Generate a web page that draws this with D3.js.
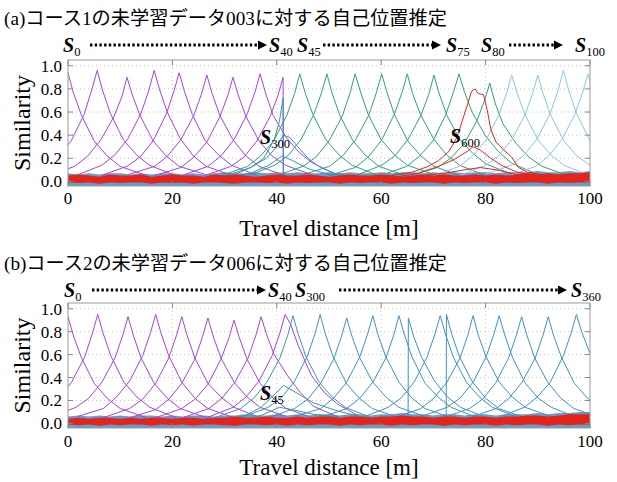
<!DOCTYPE html>
<html>
<head>
<meta charset="utf-8">
<script src="https://cdn.jsdelivr.net/npm/d3@7"></script>
<style>
  body { margin: 0; background: #fff; }
  text { font-family: "Liberation Serif", "Noto Sans CJK JP", serif; }
</style>
</head>
<body>
<script>
// ---------- data ----------
var xTicks = [0, 20, 40, 60, 80, 100];
var yTicks = [0, 0.2, 0.4, 0.6, 0.8, 1.0];
var yTickLabels = ["0.0", "0.2", "0.4", "0.6", "0.8", "1.0"];

// offsets [m] from a peak at which each curve's similarity was read
var offs = [-15, -10, -7.5, -5, -2.5, -1, 0, 1, 2.5, 5, 7.5, 10, 15];

// (a) course 1, test data 003
var purpleAPeak = [0, 5.6, 11.3, 16.5, 21.3, 26.6, 31.6, 36.8, 41.2];
var purpleAVal = [
  [0.05, 0.13, 0.22, 0.36, 0.57, 0.76, 0.94, 0.77, 0.58, 0.35, 0.22, 0.13, 0.05],
  [0.05, 0.12, 0.21, 0.35, 0.58, 0.80, 0.96, 0.79, 0.59, 0.36, 0.23, 0.14, 0.05],
  [0.05, 0.13, 0.22, 0.36, 0.56, 0.73, 0.90, 0.75, 0.57, 0.35, 0.22, 0.13, 0.06],
  [0.05, 0.14, 0.23, 0.37, 0.59, 0.79, 0.96, 0.80, 0.60, 0.37, 0.22, 0.13, 0.05],
  [0.05, 0.13, 0.21, 0.35, 0.58, 0.78, 0.94, 0.78, 0.58, 0.35, 0.23, 0.14, 0.05],
  [0.06, 0.13, 0.22, 0.36, 0.57, 0.76, 0.92, 0.76, 0.57, 0.36, 0.22, 0.13, 0.05],
  [0.05, 0.12, 0.21, 0.34, 0.56, 0.74, 0.90, 0.75, 0.56, 0.35, 0.22, 0.14, 0.06],
  [0.05, 0.13, 0.22, 0.36, 0.58, 0.77, 0.93, 0.77, 0.57, 0.38, 0.25, 0.16, 0.05],
  [0.05, 0.13, 0.21, 0.35, 0.56, 0.74, 0.90, 0.74, 0.56, 0.35, 0.22, 0.13, 0.05]
];
var purpleACut = [0, 0, 0, 0, 0, 0, 0, 0, 1];

var greenAPeak = [44.4, 49.6, 55.0, 60.1, 65.0, 70.1, 74.9, 80.8];
var greenAVal = [
  [0.05, 0.13, 0.22, 0.35, 0.57, 0.76, 0.93, 0.77, 0.58, 0.36, 0.23, 0.14, 0.05],
  [0.05, 0.14, 0.22, 0.36, 0.58, 0.77, 0.93, 0.76, 0.57, 0.35, 0.22, 0.13, 0.05],
  [0.05, 0.13, 0.21, 0.35, 0.56, 0.76, 0.93, 0.78, 0.58, 0.36, 0.23, 0.14, 0.06],
  [0.06, 0.13, 0.22, 0.36, 0.57, 0.77, 0.93, 0.77, 0.57, 0.35, 0.22, 0.13, 0.05],
  [0.05, 0.12, 0.21, 0.35, 0.58, 0.77, 0.93, 0.76, 0.58, 0.37, 0.23, 0.14, 0.05],
  [0.05, 0.14, 0.22, 0.36, 0.57, 0.75, 0.92, 0.76, 0.57, 0.36, 0.24, 0.15, 0.06],
  [0.05, 0.13, 0.22, 0.35, 0.58, 0.78, 0.93, 0.78, 0.60, 0.40, 0.26, 0.16, 0.06],
  [0.05, 0.12, 0.20, 0.32, 0.52, 0.70, 0.85, 0.68, 0.50, 0.33, 0.21, 0.13, 0.05]
];

var lightAPeak = [85.0, 90.0, 94.9, 99.6];
var lightAVal = [
  [0.05, 0.13, 0.22, 0.35, 0.57, 0.76, 0.92, 0.77, 0.58, 0.36, 0.23, 0.14, 0.05],
  [0.05, 0.14, 0.22, 0.36, 0.57, 0.76, 0.92, 0.76, 0.57, 0.35, 0.22, 0.14, 0.05],
  [0.06, 0.14, 0.23, 0.37, 0.59, 0.79, 0.96, 0.79, 0.59, 0.36, 0.22, 0.13, 0.05],
  [0.05, 0.13, 0.22, 0.36, 0.58, 0.77, 0.93, 0.77, 0.58, 0.36, 0.22, 0.13, 0.05]
];

// S300 (blue) false matches around 40 m, as [distance, similarity]
var blueAPts = [
  [[28, 0.03], [32, 0.06], [35, 0.12], [37.5, 0.2], [39.5, 0.36], [40.5, 0.52], [41.2, 0.72], [41.25, 0.02]],
  [[27, 0.03], [31, 0.06], [35, 0.12], [38, 0.2], [40, 0.3], [41.2, 0.4], [42.5, 0.38], [44, 0.3], [46, 0.2], [48, 0.13], [51, 0.07], [55, 0.04]],
  [[30, 0.03], [35, 0.07], [38.5, 0.14], [41, 0.22], [43, 0.18], [46, 0.11], [50, 0.06], [54, 0.04]]
];
// S600 (red) false matches around 78 m
var redAPts = [
  [[58, 0.03], [62, 0.05], [66, 0.08], [69, 0.13], [71, 0.18], [73, 0.26], [74.5, 0.38], [75.5, 0.52], [76.5, 0.66], [77.3, 0.78], [78, 0.80], [78.6, 0.76], [79.6, 0.75], [80.3, 0.62], [81, 0.45], [82, 0.34], [83.5, 0.27], [85, 0.21], [86.3, 0.12], [88, 0.08], [92, 0.05]],
  [[62, 0.03], [67, 0.07], [71, 0.13], [74, 0.19], [76.5, 0.26], [77.6, 0.30], [79, 0.27], [81, 0.2], [83, 0.14], [86, 0.08], [90, 0.05]],
  [[66, 0.04], [72, 0.07], [76, 0.1], [79, 0.12], [82, 0.1], [86, 0.06], [90, 0.04]]
];

// noise floor, sampled every 2 m
var noiseX = d3.range(0, 101, 2);
var blueTopA = [0.07, 0.06, 0.07, 0.06, 0.07, 0.07, 0.06, 0.07, 0.06, 0.07, 0.07, 0.06, 0.07, 0.06, 0.07, 0.08, 0.07, 0.07, 0.08, 0.07, 0.08, 0.07, 0.08, 0.07, 0.07, 0.08, 0.07, 0.08, 0.07, 0.07, 0.08, 0.07, 0.08, 0.08, 0.07, 0.08, 0.07, 0.08, 0.07, 0.08, 0.08, 0.07, 0.08, 0.08, 0.08, 0.09, 0.08, 0.08, 0.09, 0.08, 0.09];
var redTopA = [0.05, 0.06, 0.05, 0.04, 0.06, 0.05, 0.05, 0.06, 0.04, 0.05, 0.06, 0.05, 0.05, 0.04, 0.06, 0.05, 0.06, 0.05, 0.04, 0.05, 0.06, 0.05, 0.05, 0.06, 0.05, 0.04, 0.05, 0.06, 0.05, 0.05, 0.06, 0.05, 0.04, 0.05, 0.06, 0.05, 0.06, 0.05, 0.05, 0.06, 0.05, 0.06, 0.05, 0.06, 0.07, 0.06, 0.07, 0.06, 0.07, 0.07, 0.08];
var redBotA = [-0.01, -0.015, -0.01, -0.02, -0.01, -0.015, -0.01, -0.01, -0.02, -0.01, -0.015, -0.01, -0.02, -0.01, -0.01, -0.015, -0.02, -0.01, -0.01, -0.015, -0.01, -0.02, -0.01, -0.015, -0.01, -0.01, -0.02, -0.01, -0.015, -0.01, -0.01, -0.02, -0.01, -0.015, -0.01, -0.01, -0.02, -0.01, -0.015, -0.01, -0.01, -0.02, -0.01, -0.015, -0.01, -0.01, -0.02, -0.01, -0.015, -0.01, -0.01];

// (b) course 2, test data 006
var purpleBPeak = [0, 5.7, 11.5, 16.8, 21.8, 26.8, 31.8, 37.0, 41.6];
var purpleBVal = [
  [0.05, 0.13, 0.22, 0.35, 0.57, 0.76, 0.93, 0.77, 0.58, 0.35, 0.22, 0.13, 0.05],
  [0.05, 0.13, 0.22, 0.36, 0.58, 0.79, 0.95, 0.79, 0.59, 0.36, 0.23, 0.14, 0.05],
  [0.05, 0.14, 0.22, 0.36, 0.57, 0.77, 0.93, 0.77, 0.57, 0.35, 0.22, 0.13, 0.05],
  [0.06, 0.13, 0.23, 0.37, 0.59, 0.79, 0.95, 0.79, 0.59, 0.36, 0.22, 0.13, 0.05],
  [0.05, 0.13, 0.21, 0.35, 0.57, 0.77, 0.93, 0.77, 0.57, 0.35, 0.23, 0.14, 0.05],
  [0.05, 0.12, 0.21, 0.35, 0.56, 0.76, 0.92, 0.76, 0.57, 0.36, 0.23, 0.14, 0.06],
  [0.05, 0.13, 0.21, 0.34, 0.56, 0.74, 0.90, 0.75, 0.56, 0.35, 0.22, 0.13, 0.05],
  [0.05, 0.13, 0.22, 0.36, 0.57, 0.77, 0.93, 0.78, 0.60, 0.42, 0.27, 0.15, 0.05],
  [0.05, 0.14, 0.23, 0.37, 0.59, 0.79, 0.95, 0.87, 0.68, 0.42, 0.27, 0.17, 0.04]
];

var blueBPeak = [43.1, 48.3, 53.4, 58.4, 63.4, 65.2, 71.3, 72.5, 77.6, 82.6, 86.9, 92.0, 97.4];
var blueBVal = [
  [0.05, 0.13, 0.22, 0.36, 0.57, 0.77, 0.94, 0.78, 0.58, 0.36, 0.23, 0.14, 0.05],
  [0.05, 0.14, 0.22, 0.36, 0.58, 0.78, 0.95, 0.78, 0.58, 0.35, 0.22, 0.13, 0.05],
  [0.05, 0.13, 0.21, 0.35, 0.56, 0.76, 0.92, 0.76, 0.57, 0.36, 0.23, 0.14, 0.06],
  [0.06, 0.13, 0.22, 0.36, 0.58, 0.78, 0.94, 0.77, 0.58, 0.36, 0.22, 0.13, 0.05],
  [0.05, 0.13, 0.22, 0.36, 0.57, 0.77, 0.94, 0.78, 0.58, 0.35, 0.23, 0.14, 0.05],
  [0.05, 0.13, 0.21, 0.35, 0.57, 0.76, 0.92, 0.76, 0.58, 0.37, 0.23, 0.14, 0.05],
  [0.05, 0.14, 0.22, 0.36, 0.58, 0.78, 0.94, 0.78, 0.58, 0.36, 0.23, 0.14, 0.05],
  [0.05, 0.13, 0.22, 0.36, 0.58, 0.78, 0.95, 0.78, 0.58, 0.36, 0.22, 0.13, 0.05],
  [0.05, 0.13, 0.22, 0.36, 0.57, 0.77, 0.94, 0.77, 0.58, 0.36, 0.23, 0.14, 0.06],
  [0.06, 0.14, 0.22, 0.36, 0.58, 0.78, 0.94, 0.78, 0.58, 0.35, 0.22, 0.14, 0.05],
  [0.05, 0.13, 0.21, 0.35, 0.57, 0.77, 0.93, 0.77, 0.57, 0.36, 0.22, 0.13, 0.05],
  [0.05, 0.13, 0.22, 0.36, 0.57, 0.77, 0.93, 0.77, 0.58, 0.35, 0.22, 0.14, 0.05],
  [0.05, 0.14, 0.23, 0.36, 0.59, 0.79, 0.95, 0.80, 0.62, 0.38, 0.24, 0.14, 0.05]
];
var blueBCut = [0, 0, 0, 0, 0, -1, 0, -1, 0, 0, 0, 0, 0];

// S45 (green) false matches around 41 m
var greenBPts = [
  [[30, 0.03], [34, 0.07], [37, 0.14], [39.5, 0.25], [41.3, 0.33], [42.5, 0.3], [44.4, 0.25], [47, 0.18], [51.5, 0.11], [56, 0.06], [60, 0.04]],
  [[33, 0.03], [37, 0.07], [40.5, 0.14], [43, 0.12], [47, 0.08], [52, 0.05]]
];

var blueTopB = [0.06, 0.07, 0.06, 0.07, 0.06, 0.07, 0.06, 0.07, 0.07, 0.06, 0.07, 0.06, 0.07, 0.07, 0.06, 0.07, 0.07, 0.08, 0.07, 0.07, 0.08, 0.07, 0.08, 0.07, 0.08, 0.08, 0.07, 0.08, 0.08, 0.07, 0.08, 0.08, 0.09, 0.08, 0.08, 0.07, 0.08, 0.08, 0.07, 0.08, 0.08, 0.07, 0.08, 0.08, 0.08, 0.09, 0.08, 0.09, 0.09, 0.10, 0.10];
var redTopB = [0.04, 0.05, 0.04, 0.05, 0.05, 0.04, 0.05, 0.04, 0.05, 0.05, 0.04, 0.05, 0.05, 0.04, 0.05, 0.05, 0.06, 0.05, 0.05, 0.06, 0.05, 0.05, 0.06, 0.05, 0.06, 0.06, 0.05, 0.06, 0.06, 0.05, 0.06, 0.06, 0.07, 0.06, 0.06, 0.05, 0.06, 0.06, 0.05, 0.06, 0.06, 0.05, 0.06, 0.06, 0.07, 0.07, 0.06, 0.07, 0.08, 0.08, 0.08];
var redBotB = [-0.01, -0.015, -0.01, -0.02, -0.01, -0.015, -0.01, -0.01, -0.02, -0.01, -0.015, -0.01, -0.02, -0.01, -0.01, -0.015, -0.02, -0.01, -0.01, -0.015, -0.01, -0.02, -0.01, -0.015, -0.01, -0.01, -0.02, -0.01, -0.015, -0.01, -0.01, -0.02, -0.01, -0.015, -0.01, -0.01, -0.02, -0.01, -0.015, -0.01, -0.01, -0.02, -0.01, -0.015, -0.01, -0.01, -0.02, -0.01, -0.015, -0.01, -0.01];

// arrow row labels: [S index, marker position in px]
var rowA = [["0", 63], ["40", 269], ["45", 297], ["75", 446], ["80", 481], ["100", 575]];
var arrowsA = [[90, 267], [323, 441], [509, 563]];
var rowB = [["0", 64], ["40", 268], ["300", 295], ["360", 571]];
var arrowsB = [[92, 266], [339, 567]];

// ---------- drawing ----------
var W = 617, H = 482;
var svg = d3.select("body").append("svg").attr("width", W).attr("height", H);

var x = d3.scaleLinear().domain([0, 100]).range([68, 590]);

var colPurple = "#a542e6", colGreen = "#2fa27a", colLight = "#88c6ea",
    colBlue = "#3a8fc4", colBlueB = "#3c93c8", colRed = "#e4231b", colNoiseBlue = "#2a7fbf";

function peakCurves(peaks, vals, cuts) {
  return peaks.map(function(p, i) {
    var pts = offs.map(function(o, j) { return [p + o, vals[i][j]]; });
    var c = cuts ? cuts[i] : 0;
    if (c === 1) {
      pts = pts.filter(function(d) { return d[0] <= p; });
      pts.push([p + 0.05, 0.02]);
    } else if (c === -1) {
      pts = pts.filter(function(d) { return d[0] >= p; });
      pts.unshift([p - 0.05, 0.02]);
    }
    return pts;
  });
}

function sLabel(g, px, py, sub) {
  var t = g.append("text").attr("x", px).attr("y", py);
  t.append("tspan").text("S")
    .attr("font-size", 20).attr("font-weight", "bold").attr("font-style", "italic");
  t.append("tspan").text(sub).attr("font-size", 12.5).attr("dy", 4);
}

function dotArrow(g, x1, x2, py) {
  g.append("line").attr("x1", x1).attr("x2", x2 - 8).attr("y1", py).attr("y2", py)
    .attr("stroke", "#000").attr("stroke-width", 3).attr("stroke-dasharray", "2.4,2.3");
  g.append("path").attr("d", "M" + (x2 - 9) + "," + (py - 4.5) + "L" + x2 + "," + py + "L" + (x2 - 9) + "," + (py + 4.5) + "Z")
    .attr("fill", "#000");
}

function panel(opt) {
  var y = d3.scaleLinear().domain([-0.04, 1.05]).range([opt.bottom, opt.top]);
  var g = svg.append("g");
  var id = "clip" + opt.name;

  g.append("clipPath").attr("id", id).append("rect")
    .attr("x", x(0)).attr("y", opt.top).attr("width", x(100) - x(0)).attr("height", opt.bottom - opt.top);

  // title
  g.append("text").attr("x", 4).attr("y", opt.titleY).attr("font-size", 19)
    .attr("textLength", 443).attr("lengthAdjust", "spacingAndGlyphs")
    .text(opt.title);

  // arrow row
  opt.row.forEach(function(r) { sLabel(g, r[1], opt.rowY, r[0]); });
  opt.arrows.forEach(function(a) { dotArrow(g, a[0], a[1], opt.rowY - 7); });

  // grid
  g.selectAll(".hg").data(yTicks.slice(1)).enter().append("line")
    .attr("x1", x(0)).attr("x2", x(100))
    .attr("y1", function(d) { return y(d); }).attr("y2", function(d) { return y(d); })
    .attr("stroke", "#c8c8c8").attr("stroke-width", 1).attr("stroke-dasharray", "1,3");
  g.selectAll(".vg").data(xTicks.slice(1, -1)).enter().append("line")
    .attr("y1", opt.top).attr("y2", opt.bottom)
    .attr("x1", function(d) { return x(d); }).attr("x2", function(d) { return x(d); })
    .attr("stroke", "#c8c8c8").attr("stroke-width", 1).attr("stroke-dasharray", "1,3");

  var plot = g.append("g").attr("clip-path", "url(#" + id + ")");
  var line = d3.line().x(function(d) { return x(d[0]); }).y(function(d) { return y(d[1]); });

  // noise floor (blue under)
  var blueArea = d3.area().x(function(d, i) { return x(noiseX[i]); })
    .y0(y(-0.04)).y1(function(d) { return y(d); });
  plot.append("path").attr("d", blueArea(opt.blueTop)).attr("fill", colNoiseBlue).attr("opacity", 0.75);

  opt.series.forEach(function(s) {
    plot.selectAll(null).data(s.curves).enter().append("path")
      .attr("d", line).attr("fill", "none").attr("stroke", s.color).attr("stroke-width", 1);
  });

  // red noise on top
  var redArea = d3.area().x(function(d, i) { return x(noiseX[i]); })
    .y0(function(d, i) { return y(opt.redBot[i]); }).y1(function(d) { return y(d); });
  plot.append("path").attr("d", redArea(opt.redTop)).attr("fill", colRed);

  // frame
  g.append("rect").attr("x", x(0)).attr("y", opt.top).attr("width", x(100) - x(0))
    .attr("height", opt.bottom - opt.top).attr("fill", "none").attr("stroke", "#9a9a9a");

  // inner ticks
  xTicks.forEach(function(t) {
    g.append("line").attr("x1", x(t)).attr("x2", x(t)).attr("y1", opt.top).attr("y2", opt.top + 5).attr("stroke", "#888");
    g.append("line").attr("x1", x(t)).attr("x2", x(t)).attr("y1", opt.bottom).attr("y2", opt.bottom - 5).attr("stroke", "#888");
  });
  yTicks.forEach(function(t) {
    g.append("line").attr("x1", x(0)).attr("x2", x(0) + 5).attr("y1", y(t)).attr("y2", y(t)).attr("stroke", "#888");
    g.append("line").attr("x1", x(100)).attr("x2", x(100) - 5).attr("y1", y(t)).attr("y2", y(t)).attr("stroke", "#888");
  });

  // tick labels
  g.selectAll(".yl").data(yTicks).enter().append("text")
    .attr("x", 62).attr("y", function(d) { return y(d) + 6; })
    .attr("text-anchor", "end").attr("font-size", 17)
    .text(function(d, i) { return yTickLabels[i]; });
  g.selectAll(".xl").data(xTicks).enter().append("text")
    .attr("x", function(d) { return x(d); }).attr("y", opt.xLabelY)
    .attr("text-anchor", "middle").attr("font-size", 17)
    .text(function(d) { return d; });

  // axis titles
  g.append("text").attr("x", (x(0) + x(100)) / 2).attr("y", opt.xTitleY)
    .attr("text-anchor", "middle").attr("font-size", 23).text("Travel distance [m]");
  g.append("text").attr("transform", "translate(30," + ((opt.top + opt.bottom) / 2) + ") rotate(-90)")
    .attr("text-anchor", "middle").attr("font-size", 24).text("Similarity");

  // in-plot labels
  opt.marks.forEach(function(m) { sLabel(g, m[1], m[2], m[0]); });
}

panel({
  name: "a", top: 60, bottom: 186,
  title: "(a)コース1の未学習データ003に対する自己位置推定", titleY: 25,
  row: rowA, arrows: arrowsA, rowY: 52,
  xLabelY: 204, xTitleY: 236,
  blueTop: blueTopA, redTop: redTopA, redBot: redBotA,
  series: [
    { color: colPurple, curves: peakCurves(purpleAPeak, purpleAVal, purpleACut) },
    { color: colBlue, curves: blueAPts },
    { color: colGreen, curves: peakCurves(greenAPeak, greenAVal) },
    { color: colLight, curves: peakCurves(lightAPeak, lightAVal) },
    { color: colRed, curves: redAPts }
  ],
  marks: [["300", 260, 144], ["600", 450, 143]]
});

panel({
  name: "b", top: 303, bottom: 428,
  title: "(b)コース2の未学習データ006に対する自己位置推定", titleY: 270,
  row: rowB, arrows: arrowsB, rowY: 297,
  xLabelY: 447, xTitleY: 475,
  blueTop: blueTopB, redTop: redTopB, redBot: redBotB,
  series: [
    { color: colPurple, curves: peakCurves(purpleBPeak, purpleBVal) },
    { color: colGreen, curves: greenBPts },
    { color: colBlueB, curves: peakCurves(blueBPeak, blueBVal, blueBCut) }
  ],
  marks: [["45", 260, 400]]
});
</script>
</body>
</html>
